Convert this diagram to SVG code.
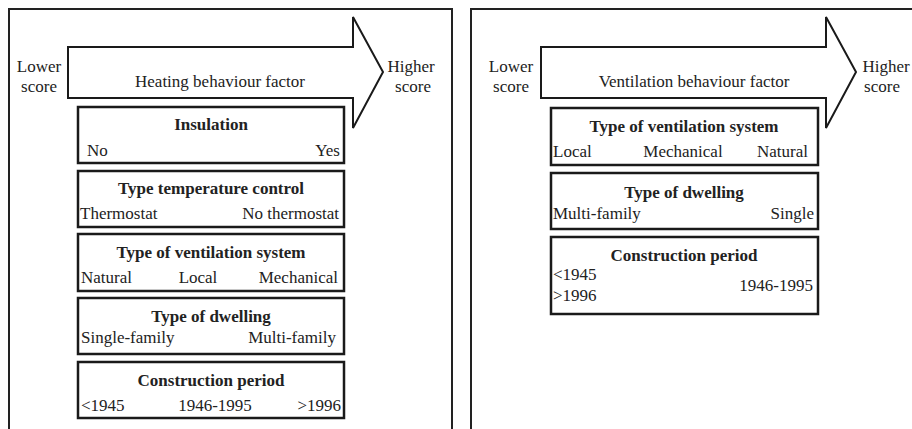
<svg xmlns="http://www.w3.org/2000/svg" width="912" height="429" viewBox="0 0 912 429">
<style>
.frame{fill:none;stroke:#222;stroke-width:2}
.arrow{fill:#fff;stroke:#1a1a1a;stroke-width:2;stroke-linejoin:miter}
.box{fill:#fff;stroke:#1a1a1a;stroke-width:2.5}
text{font-family:"Liberation Serif","Times New Roman",serif;font-size:17px;fill:#222}
.b{font-weight:bold;text-anchor:middle}
.m{text-anchor:middle}
.e{text-anchor:end}
</style>
<rect x="0" y="0" width="912" height="429" fill="#fff"/>
<g id="panel-heating">
<path class="frame" d="M9,440 V9 H452 V440"/>
<g id="arrow-heating">
<path class="arrow" d="M68,47 H353 V17 L383,72 L353,128 V98 H68 Z"/>
<text class="m" x="220" y="87">Heating behaviour factor</text>
</g>
<g id="lower-left"><text class="m" x="39" y="72">Lower</text><text class="m" x="39" y="92">score</text></g>
<g id="higher-left"><text class="m" x="411" y="72">Higher</text><text class="m" x="413" y="92">score</text></g>
<g id="h-insulation">
<rect class="box" x="78" y="107" width="266" height="56"/>
<text class="b" x="211" y="130">Insulation</text>
<text x="87" y="156">No</text><text class="e" x="340" y="156">Yes</text>
</g>
<g id="h-tempcontrol">
<rect class="box" x="78" y="171" width="266" height="56"/>
<text class="b" x="211" y="194">Type temperature control</text>
<text x="80" y="219">Thermostat</text><text class="e" x="339" y="219">No thermostat</text>
</g>
<g id="h-ventilation">
<rect class="box" x="78" y="234" width="266" height="57"/>
<text class="b" x="211" y="258">Type of ventilation system</text>
<text x="81" y="283">Natural</text><text class="m" x="198" y="283">Local</text><text class="e" x="338" y="283">Mechanical</text>
</g>
<g id="h-dwelling">
<rect class="box" x="78" y="298" width="266" height="56"/>
<text class="b" x="211" y="322">Type of dwelling</text>
<text x="81" y="343">Single-family</text><text class="e" x="336" y="343">Multi-family</text>
</g>
<g id="h-period">
<rect class="box" x="78" y="362" width="266" height="56"/>
<text class="b" x="211" y="386">Construction period</text>
<text x="81" y="411">&lt;1945</text><text class="m" x="215" y="411">1946-1995</text><text class="e" x="341" y="411">&gt;1996</text>
</g>
</g>
<g id="panel-ventilation">
<path class="frame" d="M471,440 V9 H930"/>
<g id="arrow-ventilation">
<path class="arrow" d="M541,47 H826 V17 L856,72 L826,128 V98 H541 Z"/>
<text class="m" x="694" y="87">Ventilation behaviour factor</text>
</g>
<g id="lower-right"><text class="m" x="511" y="72">Lower</text><text class="m" x="511" y="92">score</text></g>
<g id="higher-right"><text class="m" x="886" y="72">Higher</text><text class="m" x="882" y="92">score</text></g>
<g id="v-ventilation">
<rect class="box" x="551" y="108" width="267" height="57"/>
<text class="b" x="684" y="132">Type of ventilation system</text>
<text x="553" y="157">Local</text><text class="m" x="683" y="157">Mechanical</text><text class="e" x="808" y="157">Natural</text>
</g>
<g id="v-dwelling">
<rect class="box" x="551" y="173" width="267" height="56"/>
<text class="b" x="684" y="198">Type of dwelling</text>
<text x="553" y="219">Multi-family</text><text class="e" x="814" y="219">Single</text>
</g>
<g id="v-period">
<rect class="box" x="551" y="237" width="267" height="77"/>
<text class="b" x="684" y="261">Construction period</text>
<text x="553" y="280">&lt;1945</text><text x="553" y="301">&gt;1996</text><text class="e" x="813" y="291">1946-1995</text>
</g>
</g>
</svg>
